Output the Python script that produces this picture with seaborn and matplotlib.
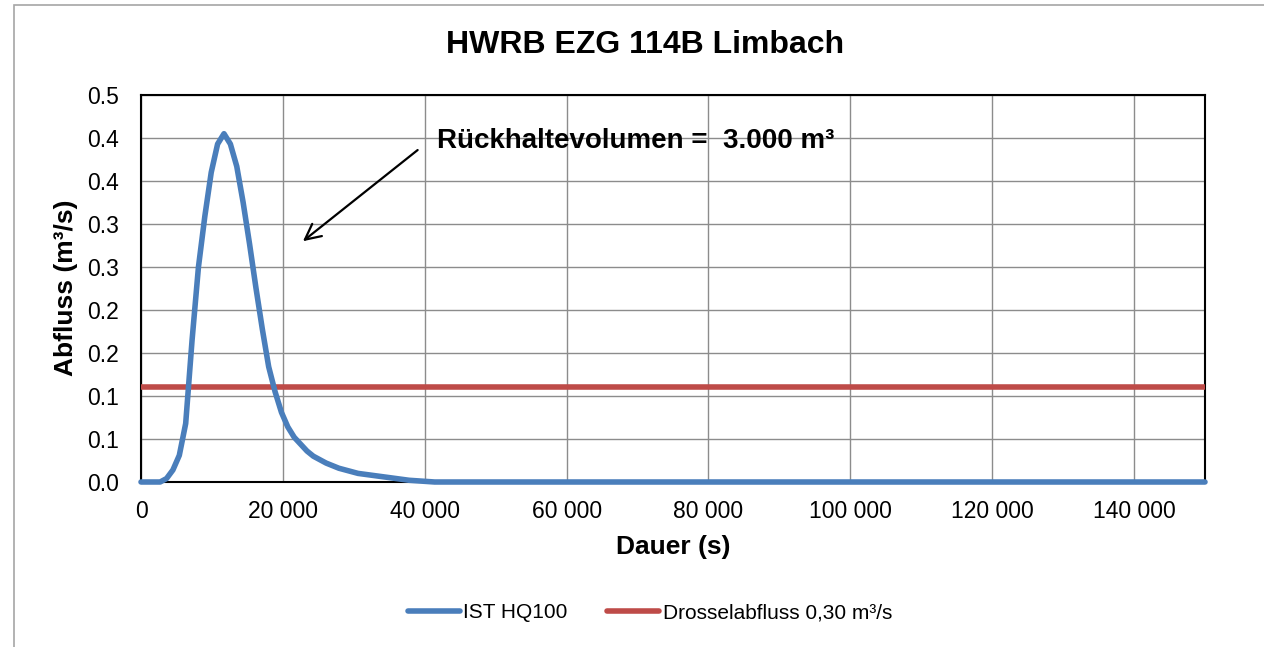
import matplotlib
matplotlib.use('Agg')

import pandas as pd
import matplotlib.pyplot as plt
import seaborn as sns
from matplotlib.patches import Rectangle

# Hydrograph IST HQ100 (time in s, discharge in m3/s)
zeit = [0, 900, 1800, 2700, 3600, 4500, 5400, 6300, 7200, 8100,
        9000, 9900, 10800, 11700, 12600, 13500, 14400, 15300, 16200, 17100,
        18000, 18900, 19800, 20700, 21600, 22500, 23400, 24300, 25200, 26100,
        27000, 27900, 28800, 29700, 30600, 31500, 32400, 33300, 34200, 35100,
        36000, 36900, 37800, 38700, 39600, 40500, 41400, 150000]
abfluss = [0.0, 0.0, 0.0, 0.0, 0.004, 0.014, 0.031, 0.068, 0.165, 0.250,
           0.309, 0.360, 0.393, 0.405, 0.393, 0.367, 0.325, 0.277, 0.226, 0.178,
           0.134, 0.105, 0.081, 0.064, 0.052, 0.044, 0.036, 0.030, 0.026, 0.022,
           0.019, 0.016, 0.014, 0.012, 0.010, 0.009, 0.008, 0.007, 0.006, 0.005,
           0.004, 0.003, 0.002, 0.0015, 0.001, 0.0005, 0.0, 0.0]

# Drosselabfluss (constant line)
drossel_zeit = [0, 150000]
drossel_wert = [0.11, 0.11]

x_ticks = [0, 20000, 40000, 60000, 80000, 100000, 120000, 140000]
x_labels = ['0', '20 000', '40 000', '60 000', '80 000', '100 000', '120 000', '140 000']
y_ticks = [0.0, 0.05, 0.10, 0.15, 0.20, 0.25, 0.30, 0.35, 0.40, 0.45]
y_labels = ['0.0', '0.1', '0.1', '0.2', '0.2', '0.3', '0.3', '0.4', '0.4', '0.5']

blau = '#4A7EBB'
rot = '#BE4B48'

sns.set_style('white')
plt.rcParams['font.family'] = ['Liberation Sans', 'DejaVu Sans']
plt.rcParams['text.color'] = 'black'
plt.rcParams['xtick.color'] = 'black'
plt.rcParams['ytick.color'] = 'black'
plt.rcParams['axes.labelcolor'] = 'black'

df_hq = pd.DataFrame({'zeit': zeit, 'abfluss': abfluss})
df_dr = pd.DataFrame({'zeit': drossel_zeit, 'abfluss': drossel_wert})

fig = plt.figure(figsize=(12.64, 6.47), dpi=100)
ax = fig.add_axes([141 / 1264, 1 - 482 / 647, (1205 - 141) / 1264, (482 - 95) / 647])

# Outer chart border (left and top visible)
fig.patches.append(Rectangle((14 / 1264, -0.2), 1.2, 1.2 - 5 / 647,
                             transform=fig.transFigure, fill=False,
                             edgecolor='#a6a6a6', lw=1.2))

sns.lineplot(data=df_dr, x='zeit', y='abfluss', ax=ax, color=rot, lw=4,
             label='Drosselabfluss 0,30 m³/s', zorder=3)
sns.lineplot(data=df_hq, x='zeit', y='abfluss', ax=ax, color=blau, lw=4,
             label='IST HQ100', zorder=4, clip_on=False)
for ln in ax.lines:
    ln.set_solid_capstyle('round')
    ln.set_solid_joinstyle('round')

ax.set_xlim(0, 150000)
ax.set_ylim(0, 0.45)
ax.set_xticks(x_ticks)
ax.set_xticklabels(x_labels, fontsize=16.5)
ax.set_yticks(y_ticks)
ax.set_yticklabels(y_labels, fontsize=16.5)
ax.tick_params(axis='both', length=0)
ax.tick_params(axis='x', pad=13)
ax.tick_params(axis='y', pad=16)

ax.grid(True, color='#8c8c8c', lw=1.0)
ax.set_axisbelow(True)
for sp in ax.spines.values():
    sp.set_color('black')
    sp.set_linewidth(1.5)
    sp.set_visible(True)

ax.set_xlabel('')
ax.set_ylabel('')
fig.text(673 / 1264, 1 - 547 / 647, 'Dauer (s)', ha='center', va='center',
         fontsize=19, fontweight='bold')
fig.text(66 / 1264, 1 - 288 / 647, 'Abfluss (m³/s)', ha='center', va='center',
         rotation=90, fontsize=19, fontweight='bold')
fig.text(645 / 1264, 1 - 45 / 647, 'HWRB EZG 114B Limbach', ha='center', va='center',
         fontsize=23, fontweight='bold')

# Annotation: arrow and text separately
ax.annotate('', xy=(22830, 0.280), xytext=(39000, 0.386),
            arrowprops=dict(arrowstyle='->', color='black', lw=1.6,
                            shrinkA=0, shrinkB=0, mutation_scale=28))
ax.text(41700, 0.3965, 'Rückhaltevolumen =  3.000 m³', fontsize=20,
        fontweight='bold', ha='left', va='center')

# Legend in the order of the reference
h, l = ax.get_legend_handles_labels()
order = [l.index('IST HQ100'), l.index('Drosselabfluss 0,30 m³/s')]
ax.legend([h[i] for i in order], [l[i] for i in order], loc='center',
          bbox_to_anchor=(650 / 1264, 1 - 613 / 647), bbox_transform=fig.transFigure,
          ncol=2, frameon=False, fontsize=15, handlelength=2.5,
          handletextpad=0.15, columnspacing=1.9)

fig.savefig('out.png', dpi=100)
plt.close(fig)
